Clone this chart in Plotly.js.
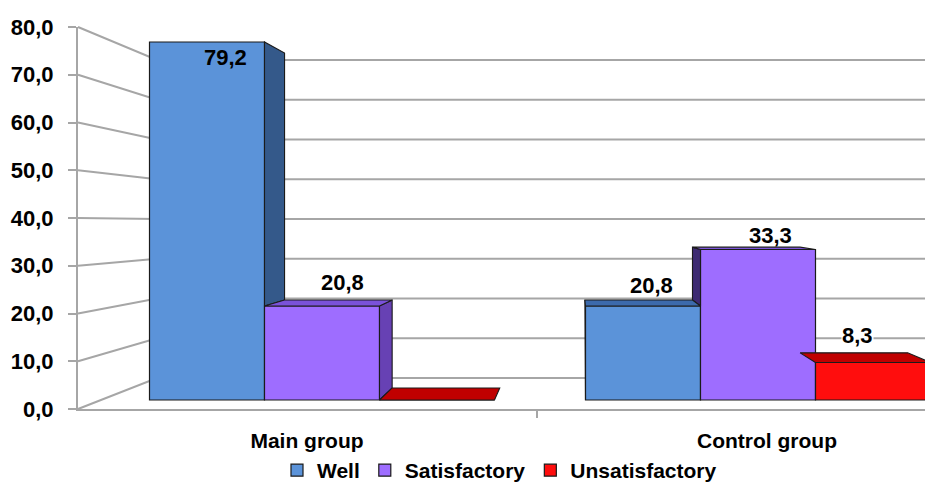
<!DOCTYPE html>
<html>
<head>
<meta charset="utf-8">
<script src="https://cdn.plot.ly/plotly-3.0.1.min.js"></script>
<style>html,body{margin:0;padding:0;background:#fff}#chart{width:925px;height:491px}</style>
</head>
<body>
<div id="chart"></div>
<script>
// ---------------- data ----------------
const groups = ['Main group', 'Control group'];
const seriesNames = ['Well', 'Satisfactory', 'Unsatisfactory'];
const wellValues = [79.2, 20.8];
const satisfactoryValues = [20.8, 33.3];
const unsatisfactoryValues = [0, 8.3];
const yTicks = [0, 10, 20, 30, 40, 50, 60, 70, 80];

// ---------------- styling / geometry ----------------
const W = 925, H = 491;
const FONT = 'Liberation Sans, Arial, sans-serif';
const seriesValues = [wellValues, satisfactoryValues, unsatisfactoryValues];
const faceColors = [
  {front: '#5B93D9', top: '#3C6AAC', right: '#34598A', left: '#2E4E80'},
  {front: '#9E6DFF', top: '#7A52DA', right: '#6741B4', left: '#3D2A72'},
  {front: '#FF0D0D', top: '#C00000', right: '#A00000', left: '#8A0000'}
];
const edge = '#1b1b1b';
const gridColor = '#A6A6A6';

// bar plane (pixels)
const barCat0 = 322, barCatStep = 436, barPx = 115, barZero = 400, barPxPerUnit = 4.52;
// front plane (pixels)
const frontAxisX = 78, frontZero = 409, frontPxPerUnit = 4.775, frontCat0 = 307, frontCatStep = 460;
// back wall (pixels)
const backLeftX = 157, backZero = 378, backPxPerUnit = 3.975;
// perspective vanishing point (pixels) and depth scale of bar backs
const vpPx = {x: 576, y: 213}, depthScale = 0.9356;

const xRange = [(0 - barCat0) / barCatStep, (W - barCat0) / barCatStep];
const y2Range = [-(H - barZero) / barPxPerUnit, barZero / barPxPerUnit];
const V = {x: (vpPx.x - barCat0) / barCatStep, y: (barZero - vpPx.y) / barPxPerUnit};
const bw = barPx / barCatStep;
const back = (p) => ({x: V.x + depthScale * (p.x - V.x), y: V.y + depthScale * (p.y - V.y)});

const traces = [];
// front faces: real bar traces
seriesValues.forEach((vals, k) => {
  traces.push({
    type: 'bar', name: seriesNames[k], x: groups.map((g, i) => i), y: vals,
    xaxis: 'x', yaxis: 'y2', width: bw, offset: (k - 1.5) * bw,
    marker: {color: faceColors[k].front, line: {color: edge, width: 1.2}},
    hoverinfo: 'name+y'
  });
});

// 3D faces (sides and tops) from the same data
function face(pts, color) {
  const all = pts.concat([pts[0]]);
  traces.push({
    type: 'scatter', mode: 'lines', x: all.map(p => p.x), y: all.map(p => p.y),
    xaxis: 'x', yaxis: 'y2', fill: 'toself', fillcolor: color,
    line: {color: edge, width: 1.1}, hoverinfo: 'skip', showlegend: false
  });
}
groups.forEach((g, i) => {
  const order = [0, 1, 2];
  const centers = order.map(k => i + (k - 1) * bw);
  const leftOfV = centers[1] < V.x;
  const seq = leftOfV ? order : order.slice().reverse();
  seq.forEach(k => {
    const v = seriesValues[k][i], c = centers[k], h = bw / 2;
    if (leftOfV) {
      const nb = k < 2 ? seriesValues[k + 1][i] : 0;
      const lo = Math.min(nb, v);
      if (v > lo) {
        const a = {x: c + h, y: lo}, b = {x: c + h, y: v};
        face([a, b, back(b), back(a)], faceColors[k].right);
      }
    } else {
      const nb = k > 0 ? seriesValues[k - 1][i] : 0;
      const lo = Math.min(nb, v);
      if (v > lo) {
        const a = {x: c - h, y: lo}, b = {x: c - h, y: v};
        face([a, b, back(b), back(a)], faceColors[k].left);
      }
    }
    if (v < V.y) {
      const tl = {x: c - h, y: v}, tr = {x: c + h, y: v};
      face([tl, tr, back(tr), back(tl)], faceColors[k].top);
    }
  });
});

// empty trace so the front (labelled) axes get their own subplot
traces.push({type: 'scatter', mode: 'markers', x: [], y: [], xaxis: 'x2', yaxis: 'y', showlegend: false, hoverinfo: 'skip'});

// walls: slanted side-wall gridlines + back-wall gridlines (paper coords)
const px2paperX = (px) => px / W, px2paperY = (py) => 1 - py / H;
const shapes = yTicks.map(t => {
  const yf = frontZero - frontPxPerUnit * t, yb = backZero - backPxPerUnit * t;
  return {
    type: 'path', xref: 'paper', yref: 'paper', layer: 'below',
    path: `M${px2paperX(frontAxisX)},${px2paperY(yf)} L${px2paperX(backLeftX)},${px2paperY(yb)} L1,${px2paperY(yb)}`,
    line: {color: gridColor, width: 2}
  };
});

// value labels
const fmt = (v) => v.toFixed(1).replace('.', ',');
const labelNudge = [[[-5, 4], [13, -15]], [[4, -18], [24, -12]], [[4, -18], [4, -17]]];
const labelBg = [['rgba(0,0,0,0)', 'rgba(0,0,0,0)'], ['rgba(0,0,0,0)', 'rgba(0,0,0,0)'], ['#ffffff', '#ffffff']];
const annotations = [];
seriesValues.forEach((vals, k) => vals.forEach((v, i) => {
  if (v <= 0) return;
  const c = i + (k - 1) * bw;
  const p = back({x: c, y: v});
  annotations.push({
    x: p.x, y: p.y, xref: 'x', yref: 'y2', text: fmt(v), showarrow: false,
    xanchor: 'center', yanchor: 'middle',
    xshift: labelNudge[k][i][0], yshift: -labelNudge[k][i][1],
    bgcolor: labelBg[k][i], borderpad: 0,
    font: {family: FONT, size: 22, color: '#000', weight: 'bold'}
  });
}));

const layout = {
  width: W, height: H, autosize: false,
  margin: {l: 0, r: 0, t: 0, b: 0, pad: 0},
  paper_bgcolor: '#ffffff', plot_bgcolor: 'rgba(0,0,0,0)',
  separators: ',.',
  barmode: 'overlay',
  showlegend: true,
  font: {family: FONT, size: 21, color: '#000'},
  xaxis: {domain: [0, 1], range: xRange, visible: false, fixedrange: true, anchor: 'y2', automargin: false},
  yaxis2: {domain: [0, 1], range: y2Range, visible: false, fixedrange: true, anchor: 'x', automargin: false},
  xaxis2: {
    domain: [frontAxisX / W, 1], anchor: 'y', automargin: false,
    range: [(frontAxisX - frontCat0) / frontCatStep, (W - frontCat0) / frontCatStep],
    tickmode: 'array', tickvals: groups.map((g, i) => i), ticktext: groups,
    ticks: '', showgrid: false, zeroline: false,
    showline: true, linecolor: gridColor, linewidth: 2,
    ticklabelstandoff: 12,
    tickfont: {family: FONT, size: 21, color: '#000', weight: 'bold'},
    minor: {tickmode: 'array', tickvals: [0.5], ticks: 'outside', ticklen: 7, tickwidth: 2, tickcolor: gridColor, showgrid: false}
  },
  yaxis: {
    domain: [1 - frontZero / H, 1 - (frontZero - frontPxPerUnit * 80) / H], anchor: 'x2', automargin: false,
    range: [0, 80], tickmode: 'array', tickvals: yTicks, tickformat: '.1f',
    ticks: 'outside', ticklen: 8, tickwidth: 2, tickcolor: gridColor,
    showline: true, linecolor: gridColor, linewidth: 2,
    showgrid: false, zeroline: false, ticklabelstandoff: 10,
    tickfont: {family: FONT, size: 22, color: '#000', weight: 'bold'}
  },
  legend: {
    orientation: 'h', x: 277 / W, xanchor: 'left', y: 0, yanchor: 'bottom',
    font: {family: FONT, size: 21, color: '#000', weight: 'bold'},
    bgcolor: 'rgba(0,0,0,0)', itemclick: false, itemdoubleclick: false
  },
  shapes: shapes,
  annotations: annotations
};

Plotly.newPlot('chart', traces, layout, {displayModeBar: false, staticPlot: true});
</script>
</body>
</html>
